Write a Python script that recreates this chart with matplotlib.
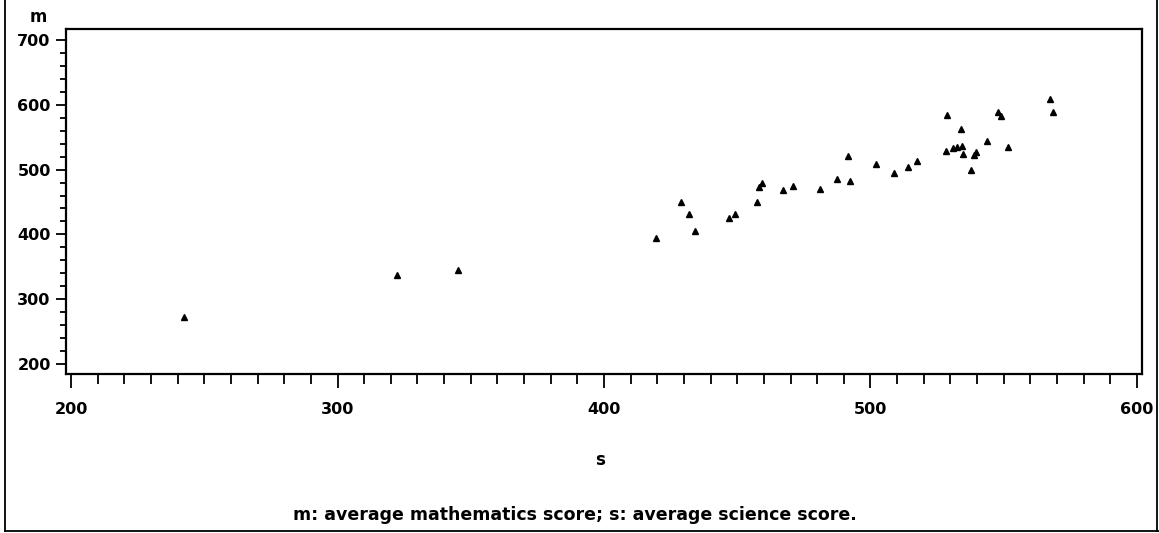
import matplotlib
matplotlib.use("Agg")
import matplotlib.pyplot as plt
from matplotlib.lines import Line2D
from matplotlib.ticker import MultipleLocator

# average science score (s) and average mathematics score (m) per country
s = [242.4, 322.3, 345.2, 419.7, 428.9, 432.0, 434.3, 447.0, 449.2, 457.3,
     458.2, 459.2, 467.0, 470.8, 481.0, 487.3, 492.3, 491.4, 502.1, 508.8,
     513.9, 517.3, 528.3, 528.9, 530.8, 532.3, 534.5, 534.0, 534.6, 538.8,
     539.6, 537.7, 543.8, 548.0, 549.0, 551.7, 567.4, 568.6]
m = [272.5, 337.0, 345.0, 393.8, 449.5, 431.0, 405.7, 424.8, 431.0, 449.5,
     473.6, 478.7, 468.5, 475.0, 470.0, 485.0, 482.9, 521.5, 508.6, 494.3,
     504.5, 513.3, 529.2, 584.3, 533.5, 534.4, 537.0, 562.6, 523.6, 522.5,
     527.6, 499.4, 543.7, 589.0, 582.7, 535.5, 608.5, 588.3]

x_ticks = [200, 300, 400, 500, 600]
y_ticks = [200, 300, 400, 500, 600, 700]

plt.rcParams['font.family'] = ['DejaVu Sans']
plt.rcParams['font.weight'] = 'bold'

fig = plt.figure(figsize=(11.59, 5.33), dpi=100)
ax = fig.add_axes([66 / 1159, 1 - 374 / 533, (1142 - 66) / 1159, (374 - 29) / 533])

ax.plot(s, m, linestyle='none', marker='^', markersize=5, color='black')

ax.set_xlim(198.1, 601.9)
ax.set_ylim(184.6, 717.0)
ax.set_xticks(x_ticks)
ax.set_yticks(y_ticks)
ax.xaxis.set_minor_locator(MultipleLocator(10))
ax.yaxis.set_minor_locator(MultipleLocator(20))
ax.tick_params(axis='both', which='both', direction='out', width=1.3, colors='black',
               labelsize=11.5)
ax.tick_params(axis='x', which='major', length=10, pad=10)
ax.tick_params(axis='x', which='minor', length=7)
ax.tick_params(axis='y', which='major', length=7, pad=4)
ax.tick_params(axis='y', which='minor', length=4)
for lab in ax.get_xticklabels() + ax.get_yticklabels():
    lab.set_fontweight('bold')
for sp in ax.spines.values():
    sp.set_linewidth(1.6)

fig.text(38 / 1159, 1 - 17 / 533, 'm', ha='center', va='center', fontsize=12, fontweight='bold')
fig.text(600 / 1159, 1 - 460 / 533, 's', ha='center', va='center', fontsize=12, fontweight='bold')
fig.text(575 / 1159, 1 - 515 / 533, 'm: average mathematics score; s: average science score.',
         ha='center', va='center', fontsize=12.5, fontweight='bold')

# page frame
fig.add_artist(Line2D([5 / 1159, 1], [1 - 531 / 533, 1 - 531 / 533], color='black', lw=1.3))
fig.add_artist(Line2D([5 / 1159, 5 / 1159], [1 - 531 / 533, 1], color='black', lw=1.3))
fig.add_artist(Line2D([1157 / 1159, 1157 / 1159], [1 - 531 / 533, 1], color='black', lw=1.3))

fig.savefig('out.png', dpi=100)
